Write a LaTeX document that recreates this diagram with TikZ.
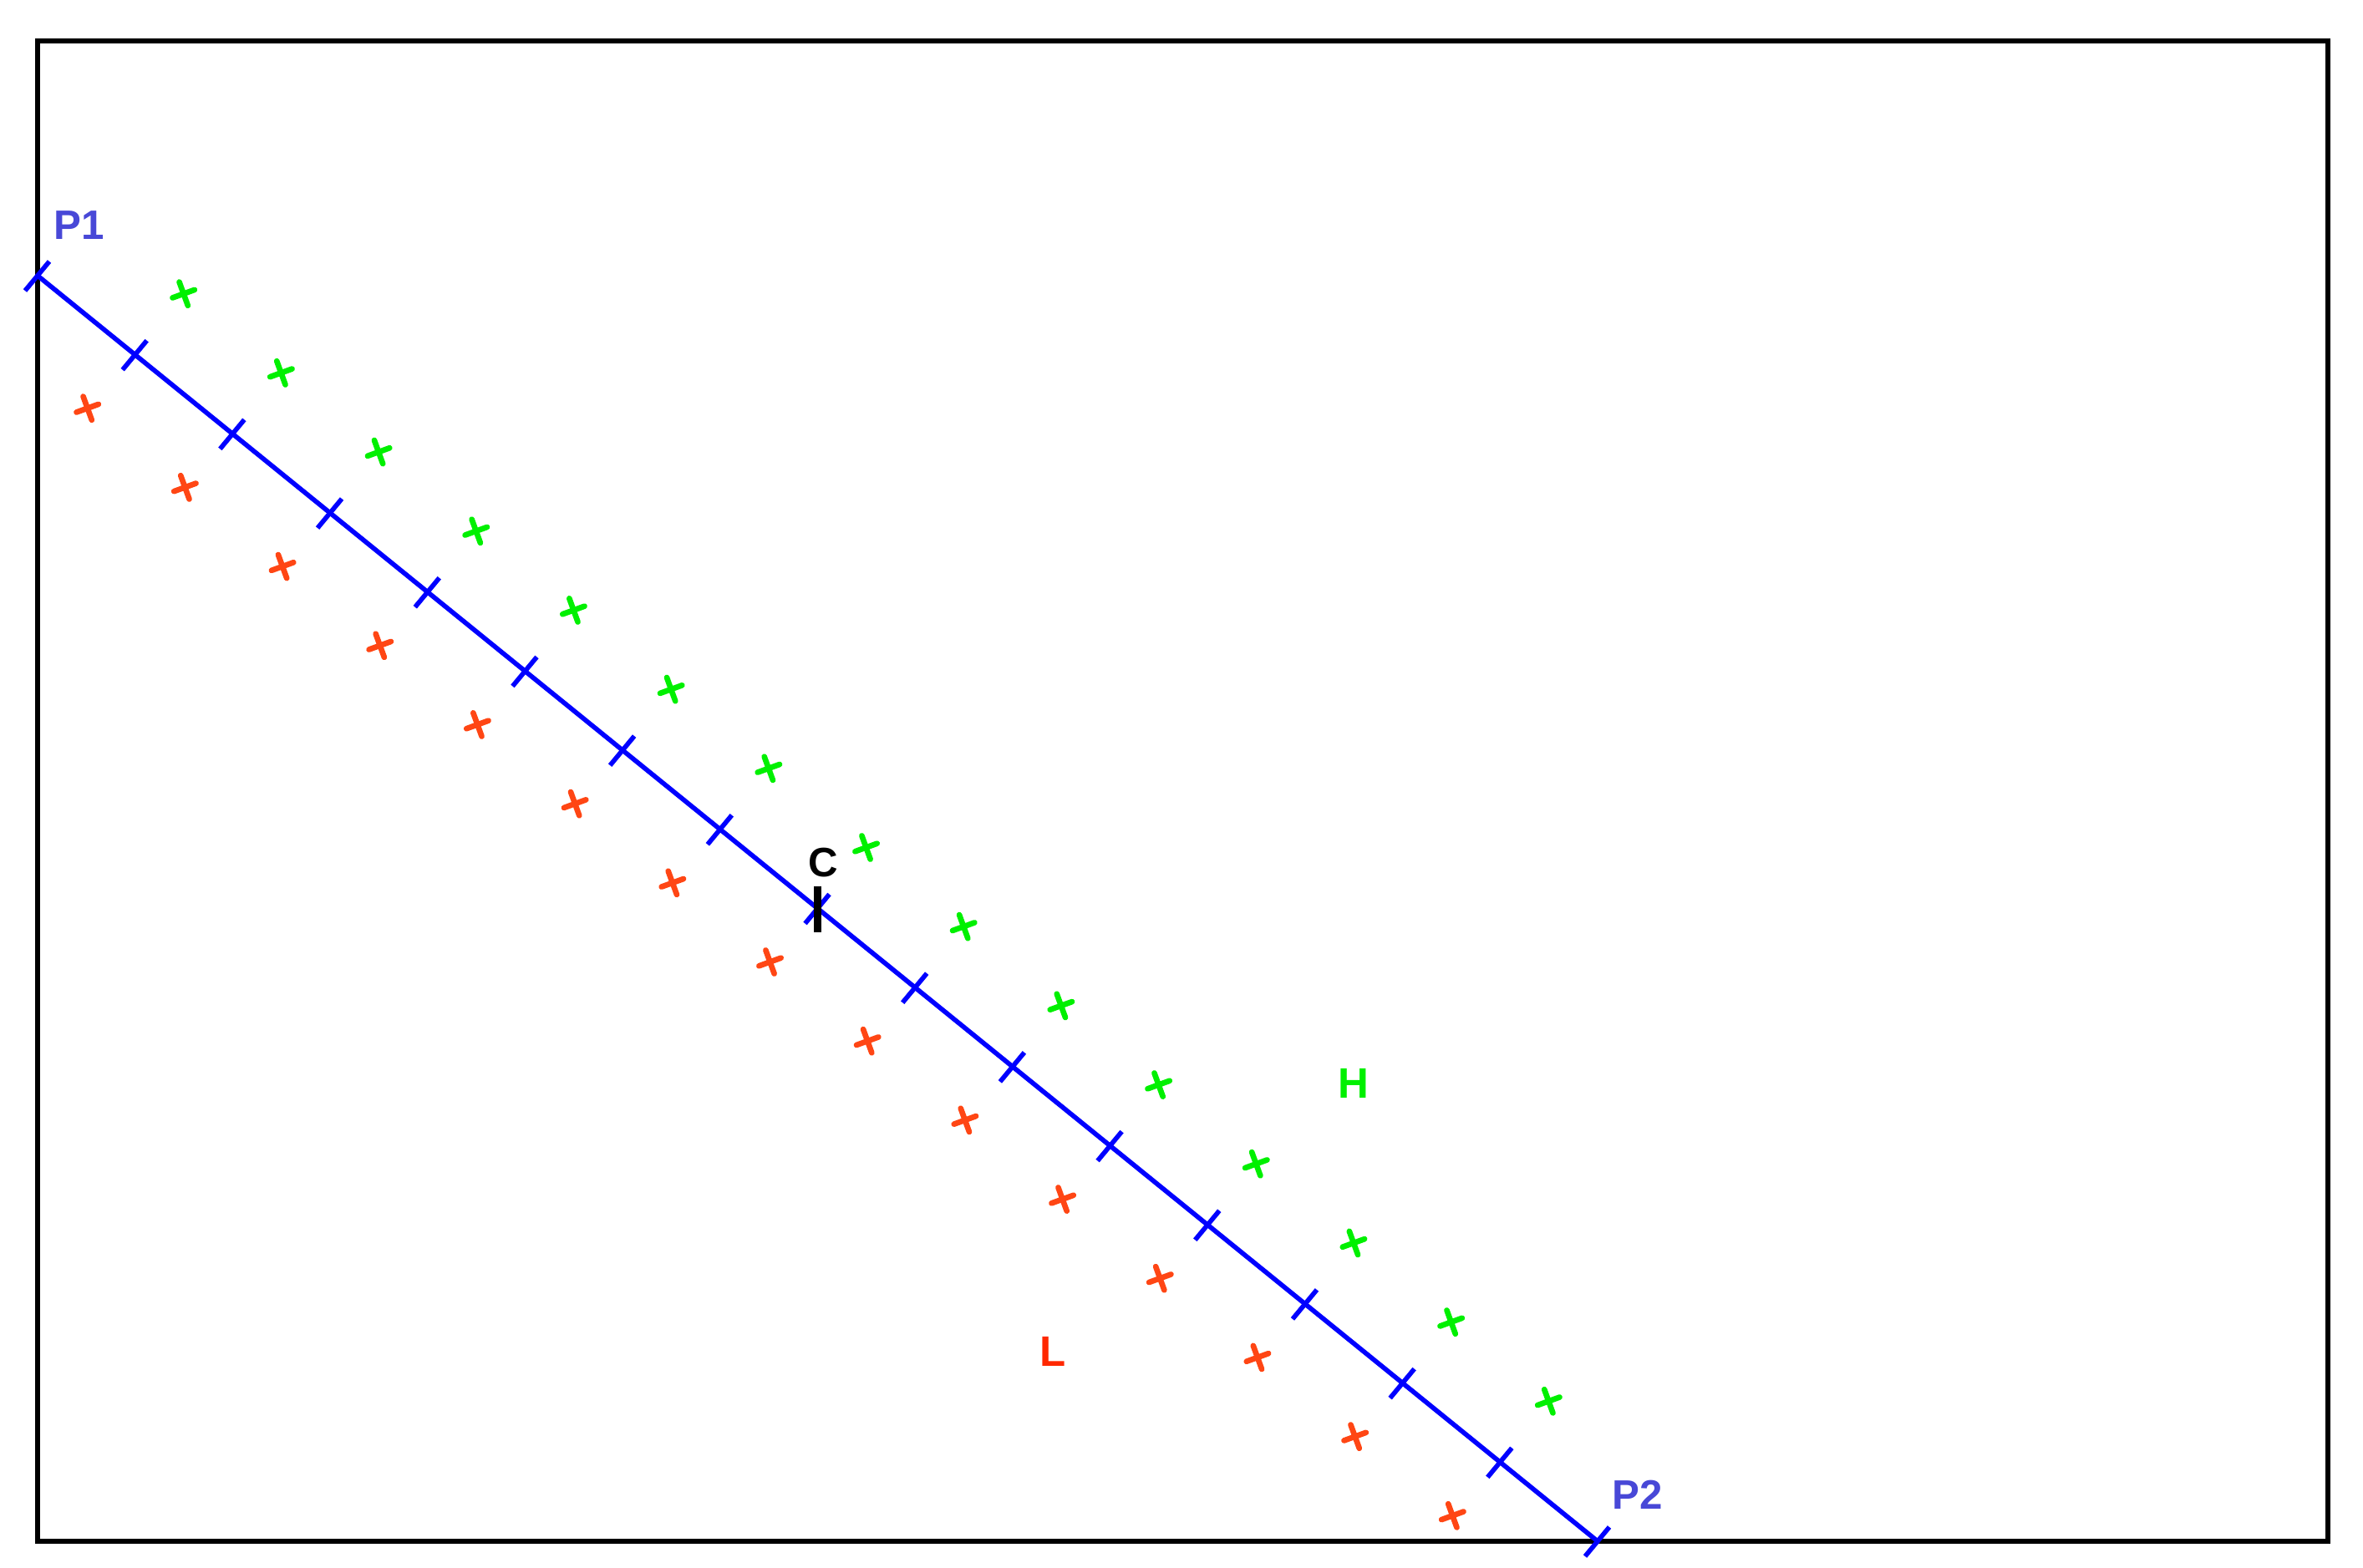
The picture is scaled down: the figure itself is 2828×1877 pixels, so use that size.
\documentclass[tikz,border=0pt]{standalone}
\usepackage{fontspec}
\setmainfont{Liberation Sans}
\usetikzlibrary{calc}
\definecolor{lineblue}{RGB}{0,0,255}
\definecolor{labelblue}{RGB}{72,72,215}
\definecolor{mgreen}{RGB}{0,240,0}
\definecolor{mred}{RGB}{255,70,20}
\definecolor{lred}{RGB}{255,40,0}
\tikzset{
  xmark/.pic={\draw[line width=1.9pt, line cap=round] (-14,0) -- (14,0) (0,-15) -- (0,15);},
  lbl/.style={inner sep=0pt, font=\fontsize{14}{16}\selectfont\bfseries},
  biglbl/.style={inner sep=0pt, font=\fontsize{14.5}{17}\selectfont\bfseries},
  frame/.style={line width=1.7pt, black},
  bline/.style={lineblue, line width=1.6pt},
}
\begin{document}
\begin{tikzpicture}[x=0.01cm, y=-0.01cm]
\useasboundingbox (0,0) rectangle (2828,1877);
\draw[frame] (45,49) rectangle (2786,1845);
\coordinate (P1) at (45,330);
\coordinate (P2) at (1912,1845);
\draw[bline] (P1) -- (P2);
\foreach \i in {0,...,16} {
  \coordinate (t\i) at ($(P1)!\i/16!(P2)$);
  \draw[bline] ($(t\i)+(-15,18)$) -- ($(t\i)+(14,-17)$);
}
\foreach \i in {1,...,15} {
  \coordinate (g\i) at ($(t\i)+(58,-73)$);
  \pic[mgreen, rotate=20] at (g\i) {xmark};
  \coordinate (r\i) at ($(t\i)+(-57,64)$);
  \pic[mred, rotate=20] at (r\i) {xmark};
}
\draw[black, line width=2.4pt] ($(t8)+(0,-27)$) -- ($(t8)+(0,28)$);
\node[lbl, text=labelblue] (lP1) at (95,270) {P1};
\node[lbl, text=labelblue] (lP2) at (1960,1789) {P2};
\node[lbl, text=black] (lC) at (985,1033) {C};
\node[biglbl, text=mgreen] (lH) at (1620,1297) {H};
\node[biglbl, text=lred] (lL) at (1260,1618) {L};
\end{tikzpicture}
\end{document}
